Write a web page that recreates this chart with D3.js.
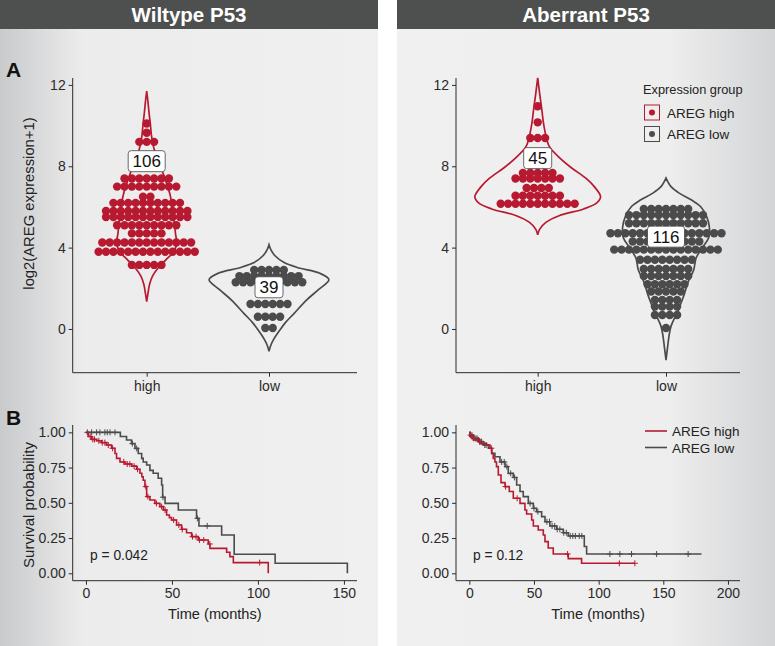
<!DOCTYPE html>
<html>
<head>
<meta charset="utf-8">
<script src="https://cdn.jsdelivr.net/npm/d3@7"></script>
<style>
  body { margin: 0; background: #fff; }
  svg { display: block; font-family: "Liberation Sans", Arial, sans-serif; }
</style>
</head>
<body>
<div id="chart"></div>
<script>
// ---- data ----
var groups = ['high', 'low'];
var panel_titles = ['Wiltype P53', 'Aberrant P53'];
var legend_labels = ['AREG high', 'AREG low'];
var y_ticks_a = [0, 4, 8, 12];
var y_ticks_b = [0, 0.25, 0.5, 0.75, 1];
var x_ticks_wt = [0, 50, 100, 150];
var x_ticks_ab = [0, 50, 100, 150, 200];
var p_values = ['p = 0.042', 'p = 0.12'];

// dot rows: log2 value of each stacked row, and the number of dots in it
var wt_high_rows = [10.1, 9.65, 9.2, 8.05, 7.4, 7.0, 6.5, 6.2, 5.8, 5.5, 5.1, 4.7, 4.25, 3.8, 3.15];
var wt_high_counts = [1, 1, 3, 3, 7, 9, 2, 10, 12, 12, 9, 5, 13, 14, 5];
var wt_low_rows = [2.9, 2.6, 2.3, 1.9, 1.23, 0.6, 0.05];
var wt_low_counts = [5, 9, 10, 3, 6, 4, 2];
var ab_high_rows = [10.95, 10.16, 9.39, 8.5, 8.05, 7.67, 7.4, 6.93, 6.55, 6.16];
var ab_high_counts = [1, 1, 3, 3, 3, 5, 7, 4, 7, 11];
var ab_low_rows = [5.9, 5.6, 5.2, 4.71, 4.3, 3.9, 3.4, 2.95, 2.6, 2.2, 1.84, 1.43, 1.1, 0.69, 0.05];
var ab_low_counts = [7, 11, 11, 16, 10, 15, 8, 7, 7, 6, 5, 4, 4, 4, 1];

// group sizes and where their labels sit (log2 value)
var wt_n = [106, 39];
var wt_label_y = [8.25, 2.05];
var ab_n = [45, 116];
var ab_label_y = [8.4, 4.54];

// violin outlines: value and relative density
var wt_high_vv = [1.35, 1.8, 2.2, 2.6, 3.0, 3.4, 3.8, 4.2, 4.7, 5.7, 6.6, 7.35, 8.0, 8.6, 9.0, 9.5, 10.1, 10.6, 11.2, 11.7];
var wt_high_vd = [0, .024, .048, .097, .19, .32, .45, .50, .48, .44, .39, .31, .23, .15, .11, .08, .06, .04, .02, 0];
var wt_low_vv = [-1.1, -0.8, -0.5, -0.1, 0.3, 0.77, 1.43, 1.92, 2.42, 2.75, 3.0, 3.25, 3.6, 3.9, 4.14];
var wt_low_vd = [0, .03, .08, .17, .27, .42, .63, .82, 1.0, .84, .5, .26, .1, .03, 0];
var ab_high_vv = [4.63, 4.9, 5.24, 5.57, 5.9, 6.2, 6.5, 7.0, 7.4, 7.94, 8.5, 9.0, 9.97, 10.8, 11.6, 12.35];
var ab_high_vd = [0, .03, .13, .34, .73, .94, 1.0, .9, .77, .53, .32, .18, .1, .065, .03, 0];
var ab_low_vv = [-1.53, -0.9, -0.3, 0.14, 0.5, 0.77, 1.2, 1.7, 2.3, 2.9, 3.5, 4.0, 4.5, 5.0, 5.5, 6.02, 6.35, 6.68, 7.0, 7.42];
var ab_low_vd = [0, .025, .05, .08, .13, .18, .23, .29, .35, .44, .48, .58, .68, .69, .65, .55, .4, .21, .08, 0];

// Kaplan-Meier steps (months, survival) and censor times
var wt_high_t = [0, 1.4, 3.3, 6.2, 9.1, 12, 14.9, 16.9, 17.8, 19.8, 22.7, 26.6, 29.5, 31.4, 32.5, 33.3, 34.3, 35.3, 37.2, 40.1, 43, 45, 46.9, 48.5, 49.8, 52.7, 55.6, 58.5, 61.4, 65.3, 71.1, 72.1, 81.8, 83.7, 85.7, 106];
var wt_high_s = [1, .97, .95, .94, .927, .91, .887, .85, .815, .79, .775, .76, .738, .71, .685, .66, .615, .544, .52, .496, .473, .449, .414, .395, .378, .343, .312, .288, .26, .236, .208, .177, .149, .118, .076, 0];
var wt_high_cens = [2.5, 4, 5, 7.5, 9.5, 11, 13, 15.5, 22, 24, 25.5, 28, 30, 34.8, 36, 41, 44, 46, 51, 54, 56, 62, 64, 66, 68.5, 72, 101];
var wt_low_t = [0, 20, 23.6, 26.5, 28.5, 30.4, 32.4, 33.3, 35.3, 37.2, 39.1, 42, 44, 44.6, 46, 53.7, 64.3, 65.7, 78.9, 86.2, 110, 152];
var wt_low_s = [1, .97, .946, .92, .886, .85, .815, .79, .768, .73, .71, .674, .626, .54, .496, .449, .39, .336, .272, .135, .071, 0];
var wt_low_cens = [0.8, 3.3, 6.2, 8.1, 11, 12.4, 14, 16.9, 27, 29.5, 44.8, 64.8, 70.5];
var ab_high_t = [0, 0.5, 3.1, 8.2, 13.4, 16, 17.3, 18.5, 19.8, 21, 22.4, 24.5, 27.6, 30.9, 34, 39.2, 43, 44.3, 48.2, 49.5, 53.3, 57.2, 58.5, 61, 64.9, 76.5, 86.8, 128];
var ab_high_s = [1, .97, .946, .92, .91, .887, .85, .815, .79, .757, .697, .643, .615, .58, .532, .496, .449, .421, .378, .336, .307, .272, .225, .18, .137, .104, .071, .071];
var ab_high_cens = [2, 7, 17, 28, 37, 76, 116, 128];
var ab_low_t = [0, 0.5, 3.1, 7, 10.8, 14.7, 17.3, 19.8, 23.7, 27.6, 30.1, 34, 36.6, 39.2, 41.7, 45.6, 49.5, 52, 55.9, 58.5, 62.3, 67.5, 72.6, 76.5, 88.9, 90.7, 179.5];
var ab_low_s = [1, .98, .957, .934, .91, .887, .851, .827, .79, .757, .709, .68, .626, .58, .544, .496, .461, .437, .402, .366, .336, .312, .288, .265, .19, .137, .137];
var ab_low_cens = [1, 2, 3.5, 5, 6, 8, 9.5, 12, 13, 25, 27, 29, 32, 35, 47, 50, 53, 60, 62, 64, 66, 68, 70, 73, 75, 78, 80, 82, 85, 87, 108.7, 116.4, 125.4, 144.8, 169.2];

// ---- styles ----
var red = '#b71a30';
var grey = '#4b4b4b';
var colors = [red, grey];
var dot_r = 4.2;
var dot_step = 7.4;

var width = 775, height = 646;

var svg = d3.select('#chart')
	.append('svg')
	.attr('width', width)
	.attr('height', height);

// panel backgrounds
var defs = svg.append('defs');
var gl = defs.append('linearGradient').attr('id', 'bgL');
gl.append('stop').attr('offset', '0%').attr('stop-color', '#c9cacc');
gl.append('stop').attr('offset', '22%').attr('stop-color', '#ececec');
gl.append('stop').attr('offset', '100%').attr('stop-color', '#f0f0f0');
var gr = defs.append('linearGradient').attr('id', 'bgR');
gr.append('stop').attr('offset', '0%').attr('stop-color', '#f0f0f0');
gr.append('stop').attr('offset', '72%').attr('stop-color', '#eeeeee');
gr.append('stop').attr('offset', '100%').attr('stop-color', '#d3d4d6');

var panels = [
	{x: 0, w: 378, fill: 'url(#bgL)'},
	{x: 397, w: 378, fill: 'url(#bgR)'}
];
panels.forEach(function(p, i) {
	svg.append('rect').attr('x', p.x).attr('y', 0).attr('width', p.w).attr('height', height).attr('fill', p.fill);
	svg.append('rect').attr('x', p.x).attr('y', 0).attr('width', p.w).attr('height', 29).attr('fill', '#4e504f');
	svg.append('text')
		.attr('x', p.x + p.w / 2)
		.attr('y', 22)
		.attr('text-anchor', 'middle')
		.style('font-weight', 'bold')
		.style('font-size', '20.5px')
		.style('fill', '#fff')
		.text(panel_titles[i]);
});

// panel letters
[['A', 76.5], ['B', 425]].forEach(function(d) {
	svg.append('text')
		.attr('x', 6)
		.attr('y', d[1])
		.style('font-weight', 'bold')
		.style('font-size', '21px')
		.style('fill', '#111')
		.text(d[0]);
});

function style_axis(g) {
	g.selectAll('path, line').attr('stroke', '#2b2b2b').attr('stroke-width', 1);
	g.selectAll('text').style('font-size', '14px').style('fill', '#2b2b2b').style('font-family', '"Liberation Sans", Arial, sans-serif');
}

// ---- panel A: violins with dot plots ----
var yA = d3.scaleLinear().domain([-2.15, 12.34]).range([372.7, 78]);

function violin_panel(cfg) {
	var x = d3.scalePoint().domain(groups).range(cfg.cats);
	var g = svg.append('g');

	// axes
	g.append('g')
		.attr('transform', 'translate(' + cfg.x0 + ',0)')
		.call(d3.axisLeft(yA).tickValues(y_ticks_a).tickSize(4).tickPadding(3).tickSizeOuter(0))
		.call(function(a) { a.select('.domain').remove(); })
		.call(style_axis);
	g.append('line')
		.attr('x1', cfg.x0).attr('x2', cfg.x0)
		.attr('y1', yA.range()[1]).attr('y2', yA.range()[0])
		.attr('stroke', '#2b2b2b');
	g.append('g')
		.attr('transform', 'translate(0,' + yA.range()[0] + ')')
		.call(d3.axisBottom(x).tickSize(4).tickPadding(4).tickSizeOuter(0))
		.call(function(a) { a.select('.domain').remove(); })
		.call(style_axis);
	g.append('line')
		.attr('x1', cfg.x0).attr('x2', cfg.x1)
		.attr('y1', yA.range()[0]).attr('y2', yA.range()[0])
		.attr('stroke', '#2b2b2b');

	var w = d3.scaleLinear().domain([0, 1]).range([0, x.step() * 0.49]);

	cfg.series.forEach(function(s, i) {
		var xc = x(groups[i]);
		var pts = s.vv.map(function(v, k) { return {v: v, d: s.vd[k]}; });
		var area = d3.area()
			.y(function(d) { return yA(d.v); })
			.x0(function(d) { return xc - w(d.d); })
			.x1(function(d) { return xc + w(d.d); })
			.curve(d3.curveCatmullRom);
		g.append('path')
			.attr('d', area(pts))
			.attr('fill', 'none')
			.attr('stroke', colors[i])
			.attr('stroke-width', 1.7);

		var dots = [];
		s.rows.forEach(function(v, k) {
			var n = s.counts[k];
			for (var j = 0; j < n; j++) {
				dots.push({x: xc + (j - (n - 1) / 2) * dot_step, v: v});
			}
		});
		g.append('g')
			.selectAll('circle')
			.data(dots)
			.enter()
			.append('circle')
				.attr('cx', function(d) { return d.x; })
				.attr('cy', function(d) { return yA(d.v); })
				.attr('r', dot_r)
				.style('fill', colors[i]);
	});

	// count labels
	cfg.series.forEach(function(s, i) {
		var xc = x(groups[i]);
		var yc = yA(s.label_y);
		var txt = String(s.n);
		var bw = txt.length * 9 + 10;
		g.append('rect')
			.attr('x', xc - bw / 2)
			.attr('y', yc - 10.5)
			.attr('width', bw)
			.attr('height', 21)
			.attr('rx', 3)
			.attr('fill', '#fff')
			.attr('stroke', '#444')
			.attr('stroke-width', 0.8);
		g.append('text')
			.attr('x', xc)
			.attr('y', yc + 6)
			.attr('text-anchor', 'middle')
			.style('font-size', '17px')
			.style('fill', '#111')
			.text(txt);
	});
}

violin_panel({
	x0: 72.7, x1: 357, cats: [146.7, 269],
	series: [
		{rows: wt_high_rows, counts: wt_high_counts, vv: wt_high_vv, vd: wt_high_vd, n: wt_n[0], label_y: wt_label_y[0]},
		{rows: wt_low_rows, counts: wt_low_counts, vv: wt_low_vv, vd: wt_low_vd, n: wt_n[1], label_y: wt_label_y[1]}
	]
});
violin_panel({
	x0: 456, x1: 740, cats: [537.7, 666],
	series: [
		{rows: ab_high_rows, counts: ab_high_counts, vv: ab_high_vv, vd: ab_high_vd, n: ab_n[0], label_y: ab_label_y[0]},
		{rows: ab_low_rows, counts: ab_low_counts, vv: ab_low_vv, vd: ab_low_vd, n: ab_n[1], label_y: ab_label_y[1]}
	]
});

// y-axis title A
svg.append('text')
	.attr('transform', 'translate(34,203.5) rotate(-90)')
	.attr('text-anchor', 'middle')
	.style('font-size', '14.8px')
	.style('fill', '#222')
	.text('log2(AREG expression+1)');

// legend A
svg.append('text')
	.attr('x', 643).attr('y', 93.5)
	.style('font-size', '12.8px').style('fill', '#222')
	.text('Expression group');
legend_labels.forEach(function(lab, i) {
	var y0 = 105 + i * 21.5;
	svg.append('rect')
		.attr('x', 644.5).attr('y', y0)
		.attr('width', 15).attr('height', 15)
		.attr('fill', 'none')
		.attr('stroke', colors[i]).attr('stroke-width', 1);
	svg.append('circle')
		.attr('cx', 652).attr('cy', y0 + 7.5).attr('r', 3)
		.attr('fill', colors[i]);
	svg.append('text')
		.attr('x', 667).attr('y', y0 + 12.5)
		.style('font-size', '13.5px').style('fill', '#222')
		.text(lab);
});

// ---- panel B: Kaplan-Meier curves ----
var yB = d3.scaleLinear().domain([-0.0525, 1.052]).range([580.7, 425]);

function km_panel(cfg) {
	var x = d3.scaleLinear().domain(cfg.domain).range([cfg.x0, cfg.x1]);
	var g = svg.append('g');

	g.append('g')
		.attr('transform', 'translate(' + cfg.x0 + ',0)')
		.call(d3.axisLeft(yB).tickValues(y_ticks_b).tickFormat(d3.format('.2f')).tickSize(4).tickPadding(3).tickSizeOuter(0))
		.call(function(a) { a.select('.domain').remove(); })
		.call(style_axis);
	g.append('line')
		.attr('x1', cfg.x0).attr('x2', cfg.x0)
		.attr('y1', yB.range()[1]).attr('y2', yB.range()[0])
		.attr('stroke', '#2b2b2b');
	g.append('g')
		.attr('transform', 'translate(0,' + yB.range()[0] + ')')
		.call(d3.axisBottom(x).tickValues(cfg.ticks).tickSize(4).tickPadding(3).tickSizeOuter(0))
		.call(function(a) { a.select('.domain').remove(); })
		.call(style_axis);
	g.append('line')
		.attr('x1', cfg.x0).attr('x2', cfg.x1)
		.attr('y1', yB.range()[0]).attr('y2', yB.range()[0])
		.attr('stroke', '#2b2b2b');

	var line = d3.line()
		.x(function(d) { return x(d[0]); })
		.y(function(d) { return yB(d[1]); })
		.curve(d3.curveStepAfter);

	// grey drawn first, red on top
	[1, 0].forEach(function(i) {
		var s = cfg.series[i];
		var pts = s.t.map(function(t, k) { return [t, s.s[k]]; });
		g.append('path')
			.attr('d', line(pts))
			.attr('fill', 'none')
			.attr('stroke', colors[i])
			.attr('stroke-width', 1.6);
		var bis = d3.bisector(function(d) { return d; }).right;
		var marks = s.cens.map(function(t) {
			var k = Math.max(0, bis(s.t, t) - 1);
			return [x(t), yB(s.s[k])];
		});
		g.append('path')
			.attr('d', marks.map(function(m) {
				return 'M' + (m[0] - 3) + ',' + m[1] + 'H' + (m[0] + 3) + 'M' + m[0] + ',' + (m[1] - 3) + 'V' + (m[1] + 3);
			}).join(''))
			.attr('stroke', colors[i])
			.attr('stroke-width', 1);
	});

	g.append('text')
		.attr('x', (cfg.x0 + cfg.x1) / 2)
		.attr('y', 618.5)
		.attr('text-anchor', 'middle')
		.style('font-size', '14.6px')
		.style('fill', '#222')
		.text('Time (months)');
	g.append('text')
		.attr('x', cfg.p_x)
		.attr('y', 559.5)
		.style('font-size', '13.8px')
		.style('fill', '#222')
		.text(cfg.p);
}

km_panel({
	x0: 72.7, x1: 357, domain: [-7.7, 157.6], ticks: x_ticks_wt, p: p_values[0], p_x: 90,
	series: [
		{t: wt_high_t, s: wt_high_s, cens: wt_high_cens},
		{t: wt_low_t, s: wt_low_s, cens: wt_low_cens}
	]
});
km_panel({
	x0: 456, x1: 740, domain: [-10.3, 209.3], ticks: x_ticks_ab, p: p_values[1], p_x: 473,
	series: [
		{t: ab_high_t, s: ab_high_s, cens: ab_high_cens},
		{t: ab_low_t, s: ab_low_s, cens: ab_low_cens}
	]
});

// y-axis title B
svg.append('text')
	.attr('transform', 'translate(34,505) rotate(-90)')
	.attr('text-anchor', 'middle')
	.style('font-size', '15px')
	.style('fill', '#222')
	.text('Survival probability');

// legend B
legend_labels.forEach(function(lab, i) {
	var y0 = 431 + i * 16.5;
	svg.append('line')
		.attr('x1', 645).attr('x2', 667)
		.attr('y1', y0).attr('y2', y0)
		.attr('stroke', colors[i]).attr('stroke-width', 1.6);
	svg.append('text')
		.attr('x', 672).attr('y', y0 + 5)
		.style('font-size', '13.5px').style('fill', '#222')
		.text(lab);
});
</script>
</body>
</html>
